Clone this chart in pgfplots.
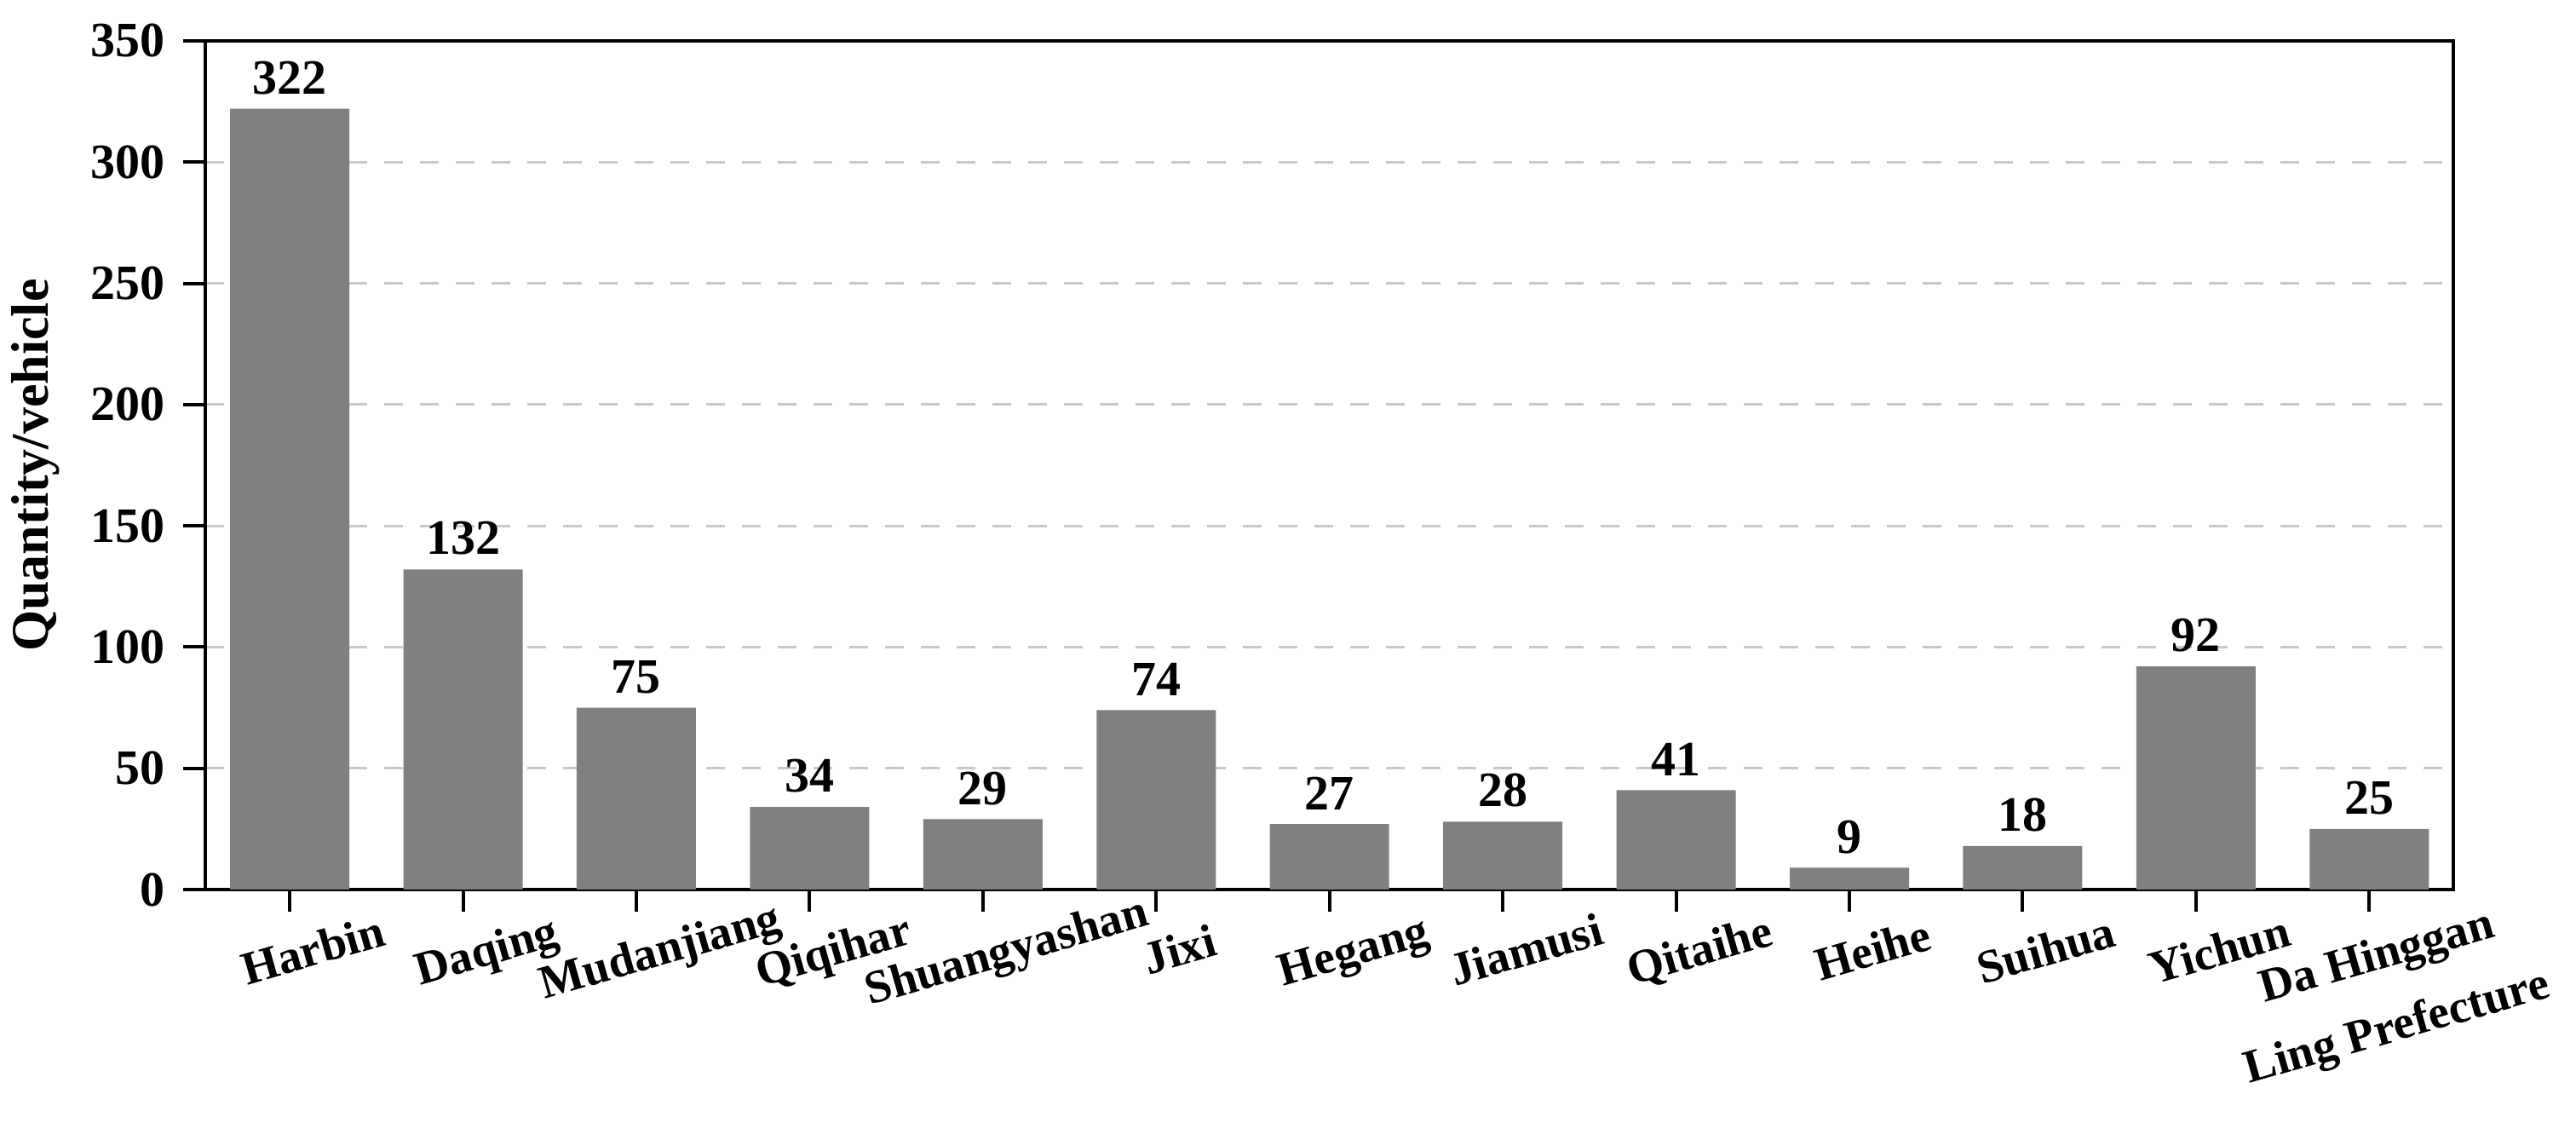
\documentclass[border=0pt]{standalone}
\usepackage{fontspec}
\setmainfont{Liberation Serif}
\usepackage{pgfplots}
\pgfplotsset{compat=1.18}
\usetikzlibrary{calc}
\definecolor{barc}{RGB}{128,128,128}
\definecolor{gridc}{RGB}{200,200,200}
\newcommand{\lblfont}{\bfseries\fontsize{14.5}{17.4}\selectfont}
\newcommand{\xlblfont}{\bfseries\fontsize{13.75}{16.5}\selectfont}
\newcommand{\ylblfont}{\bfseries\fontsize{15.5}{18.6}\selectfont}
\begin{document}
\begin{tikzpicture}
\begin{axis}[
  scale only axis,
  width=659.75pt, height=249pt,
  xmin=-0.487, xmax=12.485, ymin=0, ymax=350,
  ytick={0,50,...,350},
  xtick={0,...,12},
  xticklabels={Harbin,Daqing,Mudanjiang,Qiqihar,Shuangyashan,Jixi,Hegang,Jiamusi,Qitaihe,Heihe,Suihua,Yichun,{\begin{tabular}[t]{@{}c@{}}Da Hinggan\\[5pt]Ling Prefecture\end{tabular}\hspace*{10pt}}},
  tick align=outside,
  xtick pos=bottom, ytick pos=left,
  major tick length=6.5pt,
  axis line style={line width=1pt},
  tick style={line width=1pt, black},
  ymajorgrids,
  grid style={gridc, line width=0.8pt, dash pattern=on 5.5pt off 5pt},
  /pgf/number format/assume math mode=true,
  yticklabel style={font=\lblfont, anchor=east, inner sep=0pt, xshift=-5.25pt},
  xticklabel style={font=\xlblfont, rotate=16, anchor=base, inner sep=0pt, yshift=-17.25pt, xshift=3.5pt},
  ylabel={Quantity/vehicle},
  ylabel style={font=\ylblfont, at={(axis description cs:-0.0754,0.5)}, anchor=center},
  ybar, bar width=35pt,
  nodes near coords,
  every node near coord/.append style={font=\lblfont, inner sep=0pt, yshift=4pt, anchor=south, black},
]
\addplot[fill=barc, draw=none] coordinates {
  (0,322) (1,132) (2,75) (3,34) (4,29) (5,74) (6,27)
  (7,28) (8,41) (9,9) (10,18) (11,92) (12,25)
};
\end{axis}
\pgfresetboundingbox
\useasboundingbox ($(current axis.south west)+(-60.25pt,-68.5pt)$) rectangle ($(current axis.north east)+(36pt,12pt)$);
\end{tikzpicture}
\end{document}
